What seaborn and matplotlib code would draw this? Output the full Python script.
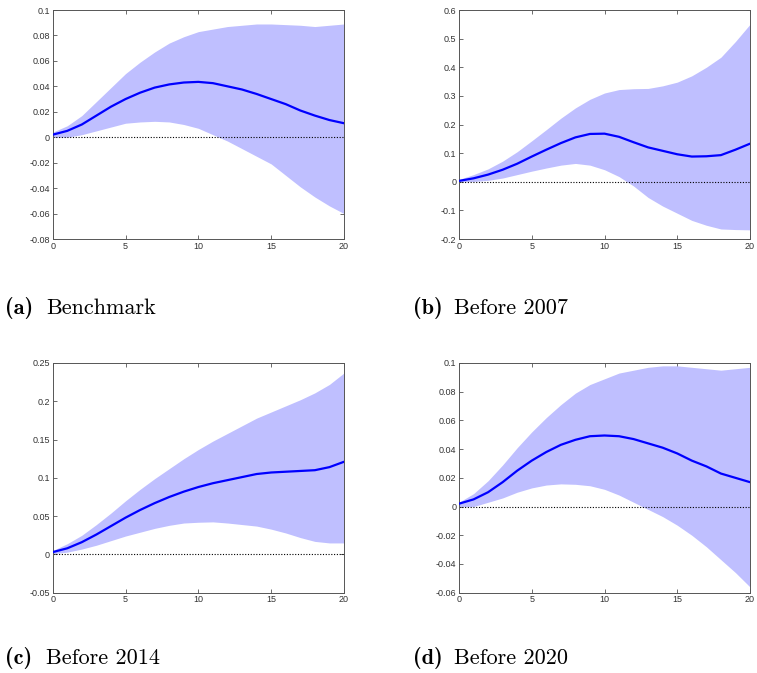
import numpy as np
import pandas as pd
import matplotlib
matplotlib.use("Agg")
import matplotlib.pyplot as plt
import seaborn as sns

horizon = list(range(21))

bench_med = [0.002, 0.005, 0.010, 0.017, 0.024, 0.030, 0.035, 0.039, 0.0415, 0.043, 0.0435,
             0.0425, 0.040, 0.0375, 0.034, 0.030, 0.026, 0.021, 0.017, 0.0135, 0.011]
bench_up = [0.004, 0.009, 0.017, 0.028, 0.039, 0.050, 0.059, 0.067, 0.074, 0.079, 0.083,
            0.085, 0.087, 0.088, 0.089, 0.089, 0.0885, 0.088, 0.087, 0.088, 0.089]
bench_lo = [0.000, 0.000, 0.002, 0.005, 0.008, 0.011, 0.012, 0.0125, 0.012, 0.010, 0.007,
            0.002, -0.003, -0.009, -0.015, -0.021, -0.030, -0.039, -0.047, -0.054, -0.060]

b07_med = [0.003, 0.012, 0.025, 0.042, 0.063, 0.088, 0.112, 0.135, 0.155, 0.167, 0.168,
           0.157, 0.138, 0.120, 0.108, 0.096, 0.088, 0.089, 0.093, 0.112, 0.133]
b07_up = [0.008, 0.025, 0.045, 0.072, 0.105, 0.143, 0.182, 0.222, 0.258, 0.288, 0.310,
          0.322, 0.325, 0.326, 0.335, 0.348, 0.370, 0.400, 0.435, 0.490, 0.550]
b07_lo = [0.000, 0.001, 0.005, 0.013, 0.025, 0.037, 0.048, 0.058, 0.064, 0.058, 0.042,
          0.018, -0.015, -0.055, -0.085, -0.110, -0.135, -0.152, -0.165, -0.167, -0.168]

b14_med = [0.003, 0.008, 0.016, 0.026, 0.037, 0.048, 0.058, 0.067, 0.075, 0.082, 0.088,
           0.093, 0.097, 0.101, 0.105, 0.107, 0.108, 0.109, 0.110, 0.114, 0.121]
b14_up = [0.005, 0.014, 0.025, 0.039, 0.054, 0.070, 0.085, 0.099, 0.112, 0.125, 0.137,
          0.148, 0.158, 0.168, 0.178, 0.186, 0.194, 0.202, 0.211, 0.222, 0.237]
b14_lo = [0.001, 0.003, 0.007, 0.012, 0.018, 0.024, 0.029, 0.034, 0.038, 0.041, 0.042,
          0.0425, 0.041, 0.039, 0.037, 0.033, 0.028, 0.022, 0.017, 0.015, 0.015]

b20_med = [0.002, 0.005, 0.010, 0.017, 0.025, 0.032, 0.038, 0.043, 0.0465, 0.049, 0.0495,
           0.049, 0.047, 0.044, 0.041, 0.037, 0.032, 0.028, 0.023, 0.020, 0.017]
b20_up = [0.003, 0.009, 0.018, 0.029, 0.041, 0.052, 0.062, 0.071, 0.079, 0.085, 0.089,
          0.093, 0.095, 0.097, 0.098, 0.098, 0.097, 0.096, 0.095, 0.096, 0.097]
b20_lo = [0.000, 0.000, 0.003, 0.006, 0.010, 0.013, 0.015, 0.0158, 0.0155, 0.0145, 0.012,
          0.008, 0.003, -0.002, -0.007, -0.013, -0.020, -0.028, -0.037, -0.046, -0.056]

panel_labels = ["(a)", "(b)", "(c)", "(d)"]
panel_titles = ["Benchmark", "Before 2007", "Before 2014", "Before 2020"]
ylims = [(-0.08, 0.1), (-0.2, 0.6), (-0.05, 0.25), (-0.06, 0.1)]
yticks = [[-0.08, -0.06, -0.04, -0.02, 0, 0.02, 0.04, 0.06, 0.08, 0.1],
          [-0.2, -0.1, 0, 0.1, 0.2, 0.3, 0.4, 0.5, 0.6],
          [-0.05, 0, 0.05, 0.1, 0.15, 0.2, 0.25],
          [-0.06, -0.04, -0.02, 0, 0.02, 0.04, 0.06, 0.08, 0.1]]
xticks = [0, 5, 10, 15, 20]

series = [(bench_med, bench_up, bench_lo), (b07_med, b07_up, b07_lo),
          (b14_med, b14_up, b14_lo), (b20_med, b20_up, b20_lo)]

sns.set_style("ticks")
plt.rcParams["font.family"] = ["Liberation Sans", "DejaVu Sans"]

fig = plt.figure(figsize=(7.57, 6.73), dpi=100)
W, H = 757, 673
boxes = [(52.7, 10, 344, 239), (459, 10, 750, 239),
         (52.7, 363, 344, 592.7), (459, 363, 750, 592.7)]
cap_pos = [(5, 308), (413, 308), (5, 658), (413, 658)]

for i, (med, up, lo) in enumerate(series):
    x0, y0, x1, y1 = boxes[i]
    ax = fig.add_axes([x0 / W, 1 - y1 / H, (x1 - x0) / W, (y1 - y0) / H])
    df = pd.DataFrame({"h": horizon, "med": med, "up": up, "lo": lo})
    ax.fill_between(df["h"], df["lo"], df["up"], color="#bfbfff", linewidth=0, zorder=1)
    ax.axhline(0, color="black", linestyle=(0, (1, 1.5)), linewidth=0.8, zorder=2)
    sns.lineplot(data=df, x="h", y="med", ax=ax, color="#0000ff", linewidth=1.6, zorder=3)
    ax.set_xlim(0, 20)
    ax.set_ylim(*ylims[i])
    ax.set_xticks(xticks)
    ax.set_yticks(yticks[i])
    ax.set_xticklabels([str(t) for t in xticks])
    ax.set_yticklabels(["%g" % t for t in yticks[i]])
    ax.set_xlabel("")
    ax.set_ylabel("")
    ax.tick_params(direction="in", length=3, width=0.6, colors="#555555",
                   labelcolor="#333333", labelsize=6.5, top=True, right=True, pad=2)
    for s in ax.spines.values():
        s.set_visible(True)
        s.set_color("#555555")
        s.set_linewidth(0.7)
    cx, cy = cap_pos[i]
    fig.text(cx / W, 1 - cy / H, panel_labels[i], family="cmb10", color="black",
             fontsize=16, va="center", ha="left")
    fig.text((cx + 41) / W, 1 - cy / H, panel_titles[i], family="cmr10", color="black",
             fontsize=16, va="center", ha="left")

fig.savefig("out.png", dpi=100)
